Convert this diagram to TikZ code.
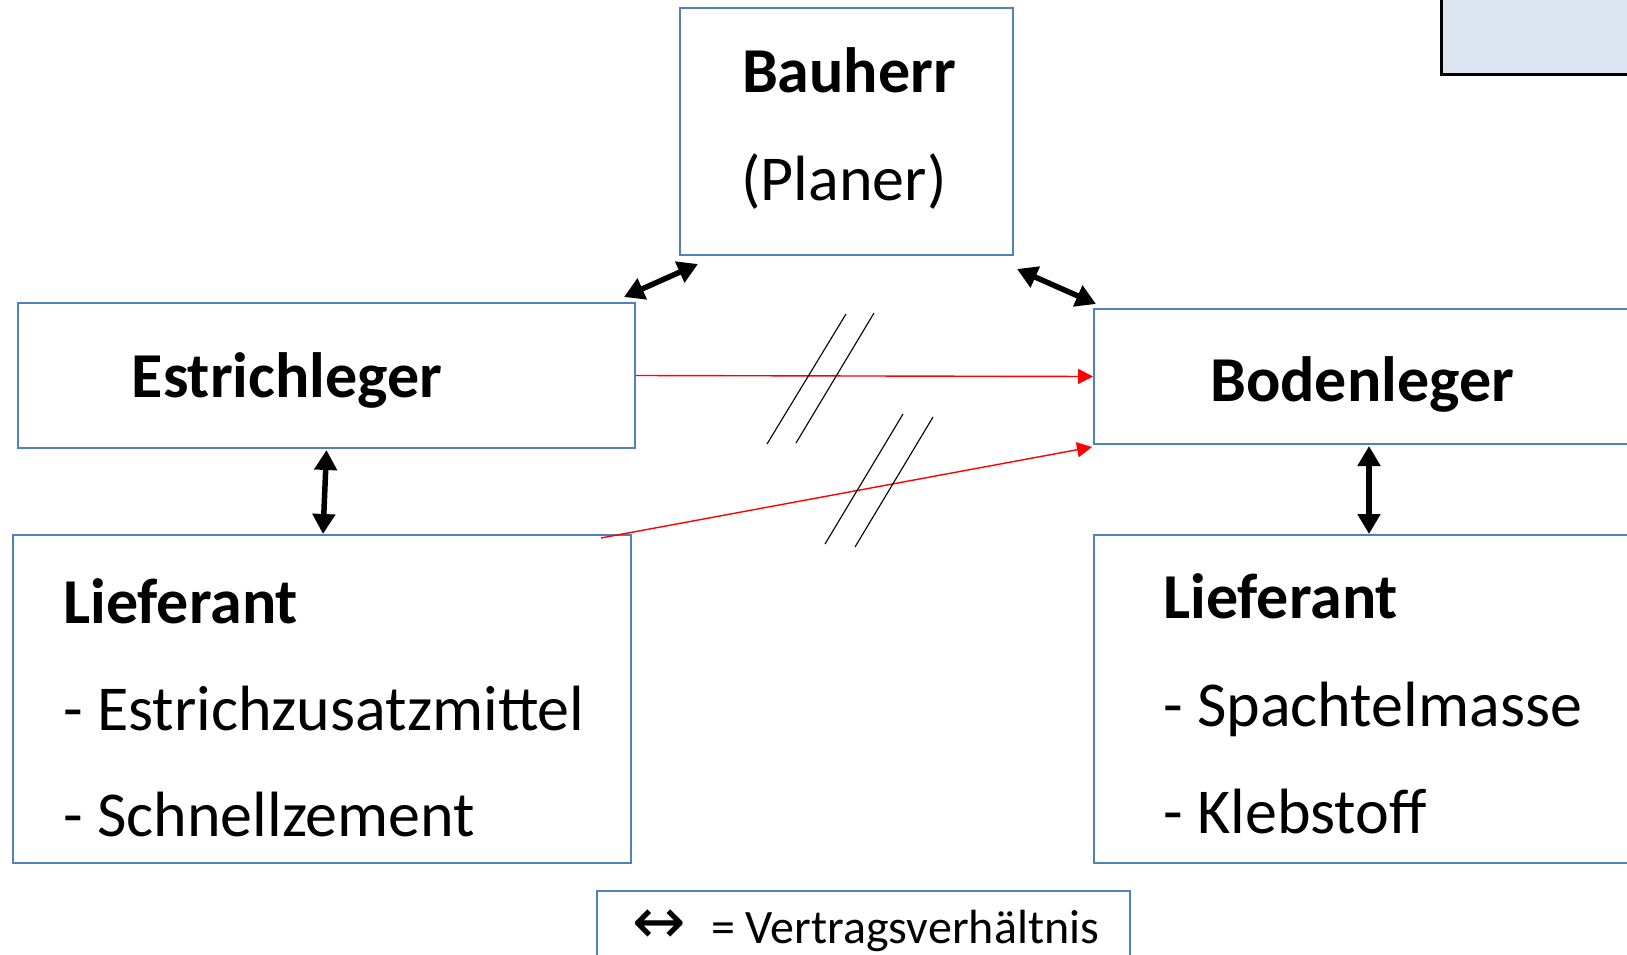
\documentclass[tikz,border=0pt]{standalone}
\usepackage{fontspec}
\setmainfont{Carlito}
\newfontfamily\symfont{DejaVu Sans}
\usetikzlibrary{arrows.meta,calc}
\definecolor{boxblue}{HTML}{4F81BD}
\definecolor{lightfill}{HTML}{DCE6F2}
\tikzset{
  box/.style={draw=boxblue, line width=2pt, fill=white, inner sep=0pt},
  contract/.style={{Triangle[length=20pt,width=22pt]}-{Triangle[length=20pt,width=22pt]}, line width=5.5pt, black},
  redarrow/.style={-{Triangle[length=15pt,width=15pt]}, line width=1.4pt, red},
  slash/.style={line width=1.1pt, black},
  big/.style={font=\fontsize{64}{70}\selectfont, inner sep=0pt, anchor=base},
  bigl/.style={font=\fontsize{64}{70}\selectfont, inner sep=0pt, anchor=base west},
}
\begin{document}
\begin{tikzpicture}[x=1pt,y=-1pt]
\useasboundingbox (0,0) rectangle (1627,955);
\clip (0,0) rectangle (1627,955);
\fill[white] (0,0) rectangle (1627,955);
% top-right box
\draw[fill=lightfill, line width=3pt, draw=black] (1441,-20) rectangle (1700,75);
% boxes
\node[box, minimum width=333pt, minimum height=247pt] (bau) at (846.5,131.5) {};
\node[box, minimum width=617pt, minimum height=145pt] (est) at (326.5,375.5) {};
\node[box, minimum width=606pt, minimum height=135pt] (bod) at (1397,376.5) {};
\node[box, minimum width=618pt, minimum height=328pt] (lie1) at (322,699) {};
\node[box, minimum width=606pt, minimum height=328pt] (lie2) at (1397,699) {};
\node[box, minimum width=533pt, minimum height=109pt] (leg) at (863.5,945.5) {};
% texts
\node[big] (tbau) at (849,93) {\bfseries Bauherr};
\node[big] (tplan) at (844,200) {(Planer)};
\node[big] (test) at (287,397) {\bfseries Estrichleger};
\node[big] (tbod) at (1362,401) {\bfseries Bodenleger};
\node[bigl] (tl1) at (63,623) {\bfseries Lieferant};
\node[bigl] (tl1a) at (63,730) {- Estrichzusatzmittel};
\node[bigl] (tl1b) at (63,836) {- Schnellzement};
\node[bigl] (tl2) at (1163,618) {\bfseries Lieferant};
\node[bigl] (tl2a) at (1163,726) {- Spachtelmasse};
\node[bigl] (tl2b) at (1163,833) {- Klebstoff};
\node[inner sep=0pt, anchor=center, font=\symfont\fontsize{64}{64}\selectfont] (tarr) at (659,927) {↔};
\node[inner sep=0pt, anchor=base west, font=\fontsize{48}{54}\selectfont] (tleg) at (711,943) {= Vertragsverhältnis};
% contract arrows
\draw[contract] ($(est.north east)+(-12,-5)$) -- ($(bau.south west)+(19,8)$);
\draw[contract] ($(bau.south east)+(3,13)$) -- ($(bod.north west)+(3,-4)$);
\draw[contract] ($(est.south)+(0,1)$) -- ($(lie1.north)+(1,0)$);
\draw[contract] ($(bod.south)+(-28,1)$) -- ($(lie2.north)+(-28,0)$);
% red arrows
\draw[redarrow] (est.east) -- (bod.west);
\draw[redarrow] ($(lie1.north east)+(-31,4)$) -- ($(bod.south west)+(-1,2)$);
% slashes
\coordinate (s1a) at (767,444); \coordinate (s1b) at (846,314);
\coordinate (s2a) at (796,443); \coordinate (s2b) at (874,313);
\coordinate (s3a) at (825,544); \coordinate (s3b) at (903,414);
\coordinate (s4a) at (855,547); \coordinate (s4b) at (933,417);
\draw[slash] (s1a) -- (s1b);
\draw[slash] (s2a) -- (s2b);
\draw[slash] (s3a) -- (s3b);
\draw[slash] (s4a) -- (s4b);
\end{tikzpicture}
\end{document}
